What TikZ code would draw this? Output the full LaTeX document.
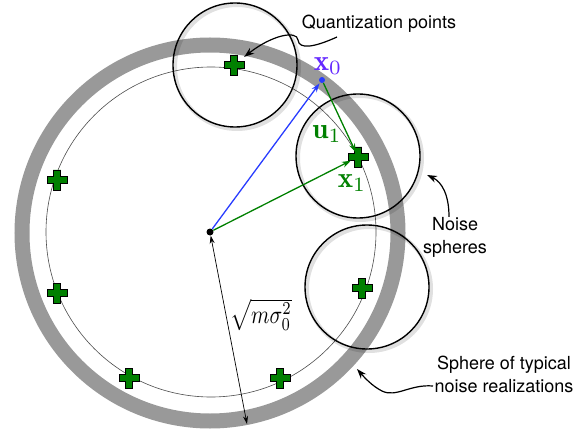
\documentclass[tikz,border=0pt]{standalone}
\usepackage{fontspec}
\newfontfamily\labelfont{TeX Gyre Heros}
\usetikzlibrary{arrows.meta}
\definecolor{ringgray}{RGB}{153,153,153}
\definecolor{qgreen}{RGB}{0,128,0}
\definecolor{xblue}{RGB}{40,60,255}
\definecolor{xpurple}{RGB}{100,40,255}

\begin{document}
\begin{tikzpicture}[x=1pt, y=-1pt,
		qline/.style={draw=black!70, line width=0.6pt},
		ring/.style={draw=ringgray, line width=15pt},
		noise/.style={circle, draw, line width=1.4pt, minimum size=124pt, inner sep=0pt},
		halo/.style={draw=black, opacity=0.12, line width=4pt},
		vec/.style={-{Stealth[length=9pt,width=6pt]}, line width=1.3pt},
		callout/.style={-{Stealth[length=10pt,width=7pt]}, line width=1.2pt},
		txt/.style={font=\labelfont\fontsize{18}{23}\selectfont, align=center, inner sep=0pt},
		vlabel/.style={inner sep=0pt, scale=2.9},
		qcross/.pic={
			\draw[fill=qgreen, line width=0.7pt] (-3.8,-10) -- (3.8,-10) -- (3.8,-3.8) -- (10,-3.8) -- (10,3.8) -- (3.8,3.8)
				-- (3.8,10) -- (-3.8,10) -- (-3.8,3.8) -- (-10,3.8) -- (-10,-3.8) -- (-3.8,-3.8) -- cycle;
		}]
		\useasboundingbox (0,0) rectangle (577,438);

		% typical noise sphere and codeword sphere
		\draw[ring] (210,233) circle[radius=188pt];
		\draw[qline] (211,232) circle[radius=165pt];

		% noise spheres
		\draw[halo] (237,67) circle[radius=62pt];
		\draw[halo] (360,158) circle[radius=62pt];
		\draw[halo] (369,289) circle[radius=62pt];
		\node[noise] (n0) at (235,65) {};
		\node[noise] (n1) at (358,156) {};
		\node[noise] (n2) at (367,287) {};

		% quantization points
		\coordinate (q0) at (234,65);
		\coordinate (q1) at (358,157);
		\coordinate (q2) at (362,288);
		\coordinate (q3) at (280,378);
		\coordinate (q4) at (129,378);
		\coordinate (q5) at (57,293);
		\coordinate (q6) at (57,180);
		\pic at (q0) {qcross};
		\pic at (q1) {qcross};
		\pic at (q2) {qcross};
		\pic at (q3) {qcross};
		\pic at (q4) {qcross};
		\pic at (q5) {qcross};
		\pic at (q6) {qcross};

		\node[circle, fill, inner sep=0pt, minimum size=7pt] (o) at (210,232) {};
		\node[circle, fill=xblue, inner sep=0pt, minimum size=6pt] (x0) at (322,80) {};
		\coordinate (rim) at (247,424);

		\draw[vec, xblue, shorten >=1pt] (o) -- (x0);
		\draw[vec, qgreen, shorten >=5pt] (x0) -- (q1);
		\draw[vec, qgreen, shorten >=8pt] (o) -- (q1);
		\draw[{Stealth[length=8pt,width=5pt]}-{Stealth[length=8pt,width=5pt]}, line width=0.7pt] (o) -- (rim);

		\node[vlabel, text=xpurple] (lx0) at (328,66) {$\mathbf{x}_0$};
		\node[vlabel, text=qgreen] (lu1) at (327,134) {$\mathbf{u}_1$};
		\node[vlabel, text=qgreen] (lx1) at (352,183) {$\mathbf{x}_1$};
		\node[inner sep=0pt, xscale=2.1, yscale=2.6] (lr) at (261,315) {$\sqrt{m\sigma_0^2}$};

		% callouts
		\node[txt] (tq) at (379,24) {Quantization points};
		\node[txt] (tn) at (455,237) {Noise\\spheres};
		\node[txt] (ts) at (504,374) {Sphere of typical\\noise realizations};
		\coordinate (cq) at (337,37);
		\coordinate (ns) at (427,175);
		\coordinate (cs) at (433,386);
		\coordinate (sr) at (357,369);

		\draw[callout, shorten >=13pt] (cq) .. controls (315,47) and (299,50) .. (298,40) .. controls (297,30) and (272,35) .. (q0);
		\draw[callout] ([xshift=-6pt]tn.north) .. controls (449,195) and (442,182) .. (ns);
		\draw[callout] (cs) .. controls (410,384) and (396,398) .. (382,391) .. controls (372,386) and (364,377) .. (sr);

	\end{tikzpicture}
\end{document}
